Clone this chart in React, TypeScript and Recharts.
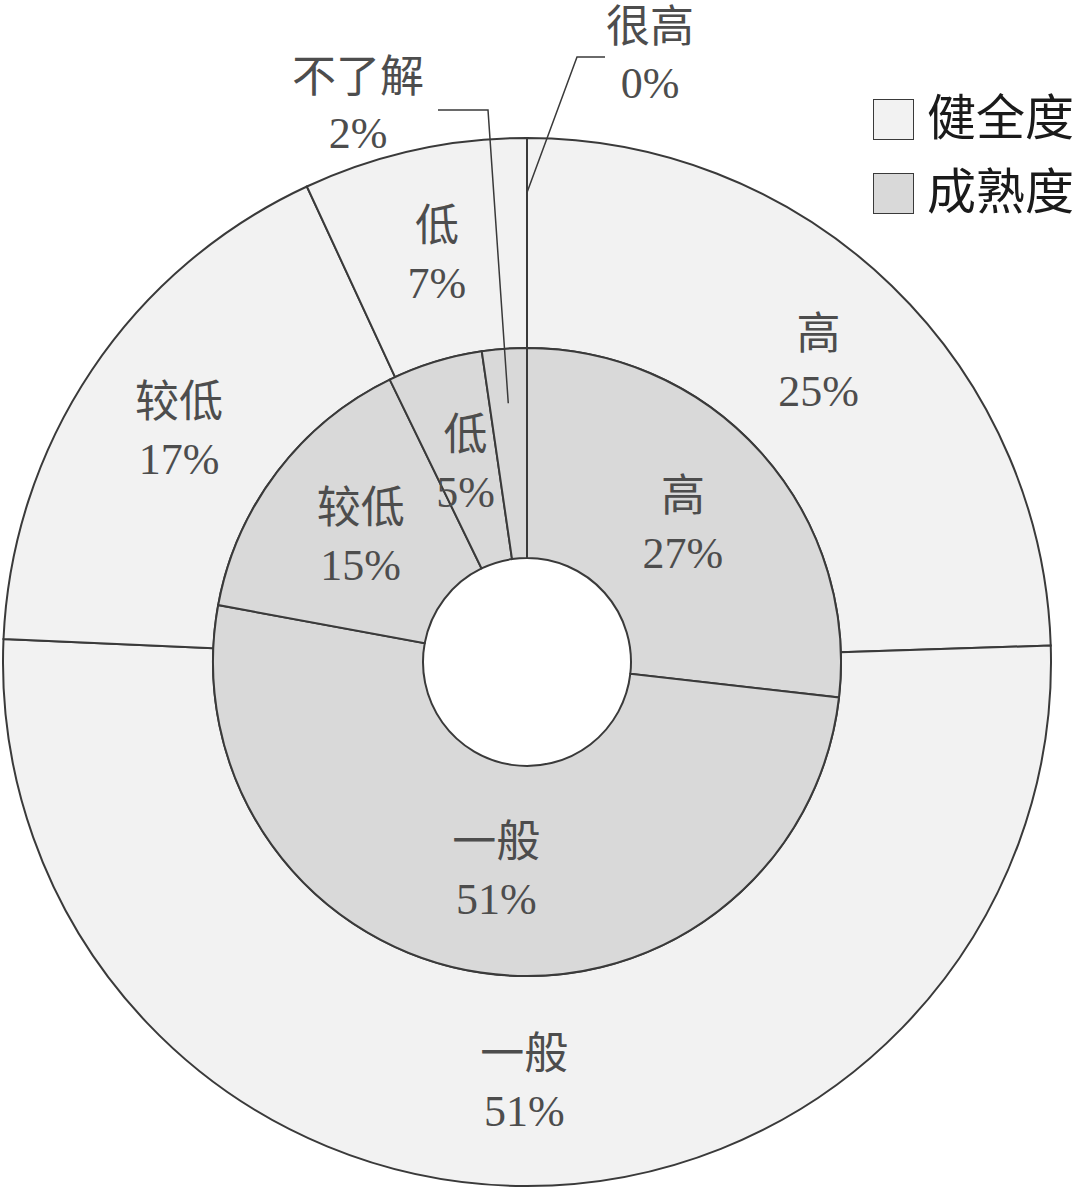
import React from "react";
import { PieChart, Pie, Cell, Legend } from "recharts";

const outerNames = ["高", "一般", "较低", "低", "很高"];
const outerValues = [24.5, 51.2, 17.4, 6.9, 0];
const innerNames = ["高", "一般", "较低", "低", "不了解"];
const innerValues = [26.8, 51.1, 14.9, 4.9, 2.3];
const seriesNames = ["健全度", "成熟度"];

const outerData = outerNames.map((n, i) => ({ name: n, value: outerValues[i] }));
const innerData = innerNames.map((n, i) => ({ name: n, value: innerValues[i] }));

const OUTER_FILL = "#f2f2f2";
const INNER_FILL = "#d9d9d9";
const STROKE = "#3a3a3a";
const TEXT = "#4d4d4d";
const FONT = "'Liberation Serif', 'Noto Sans CJK SC', serif";
const RAD = Math.PI / 180;
const FS = 44;

const CX = 527;
const CY = 662;

function makeLabel(externalName: string, ext: { elbowDx: number; elbowY: number; endDx: number; textDx: number; textY: number }) {
  return (props: any) => {
    const { cx, cy, midAngle, innerRadius, outerRadius, percent, name } = props;
    const pct = Math.round((percent || 0) * 100) + "%";
    if (name === externalName) {
      const r = innerRadius + (outerRadius - innerRadius) * 0.74;
      const ax = cx + r * Math.cos(-midAngle * RAD);
      const ay = cy + r * Math.sin(-midAngle * RAD);
      const ex = cx + ext.elbowDx;
      const ey = cy + ext.elbowY;
      const endx = cx + ext.endDx;
      const tx = cx + ext.textDx;
      const ty = cy + ext.textY;
      return (
        <g>
          <polyline points={`${ax},${ay} ${ex},${ey} ${endx},${ey}`} fill="none" stroke={STROKE} strokeWidth={1.5} />
          <text x={tx} y={ty} textAnchor="middle" fill={TEXT} fontFamily={FONT} fontSize={FS}>
            <tspan x={tx} dy={0}>{name}</tspan>
            <tspan x={tx} dy={56}>{pct}</tspan>
          </text>
        </g>
      );
    }
    const r = (innerRadius + outerRadius) / 2;
    const x = cx + r * Math.cos(-midAngle * RAD);
    const y = cy + r * Math.sin(-midAngle * RAD);
    return (
      <text x={x} y={y} textAnchor="middle" fill={TEXT} fontFamily={FONT} fontSize={FS}>
        <tspan x={x} dy={-12}>{name}</tspan>
        <tspan x={x} dy={57}>{pct}</tspan>
      </text>
    );
  };
}

const outerLabel = makeLabel("很高", { elbowDx: 50, elbowY: -605, endDx: 78, textDx: 123, textY: -620 });
const innerLabel = makeLabel("不了解", { elbowDx: -39, elbowY: -552, endDx: -89, textDx: -169, textY: -570 });

const LegendContent = () => {
  const fills = [OUTER_FILL, INNER_FILL];
  return (
    <div style={{ fontFamily: FONT }}>
      {seriesNames.map((n, i) => (
        <div key={n} style={{ display: "flex", alignItems: "center", height: 74 }}>
          <div style={{ width: 41, height: 41, background: fills[i], border: `1.5px solid ${STROKE}`, boxSizing: "border-box", marginRight: 13 }} />
          <span style={{ fontSize: 49, color: "#1a1a1a", lineHeight: "50px", whiteSpace: "nowrap" }}>{n}</span>
        </div>
      ))}
    </div>
  );
};

export default function App() {
  return (
    <div style={{ position: "absolute", top: 0, left: 0, width: 1080, height: 1191, background: "#fff" }}>
      <PieChart width={1080} height={1191} margin={{ top: 0, right: 0, bottom: 0, left: 0 }}>
        <Pie
          data={outerData}
          dataKey="value"
          nameKey="name"
          cx={CX}
          cy={CY}
          innerRadius={314}
          outerRadius={524}
          startAngle={90}
          endAngle={-270}
          stroke={STROKE}
          strokeWidth={2}
          label={outerLabel}
          labelLine={false}
          isAnimationActive={false}
        >
          {outerData.map((d) => (
            <Cell key={d.name} fill={OUTER_FILL} />
          ))}
        </Pie>
        <Pie
          data={innerData}
          dataKey="value"
          nameKey="name"
          cx={CX}
          cy={CY}
          innerRadius={104}
          outerRadius={314}
          startAngle={90}
          endAngle={-270}
          stroke={STROKE}
          strokeWidth={2}
          label={innerLabel}
          labelLine={false}
          isAnimationActive={false}
        >
          {innerData.map((d) => (
            <Cell key={d.name} fill={INNER_FILL} />
          ))}
        </Pie>
        <Legend content={<LegendContent />} wrapperStyle={{ position: "absolute", top: 82, left: 873, width: 207 }} />
      </PieChart>
    </div>
  );
}
